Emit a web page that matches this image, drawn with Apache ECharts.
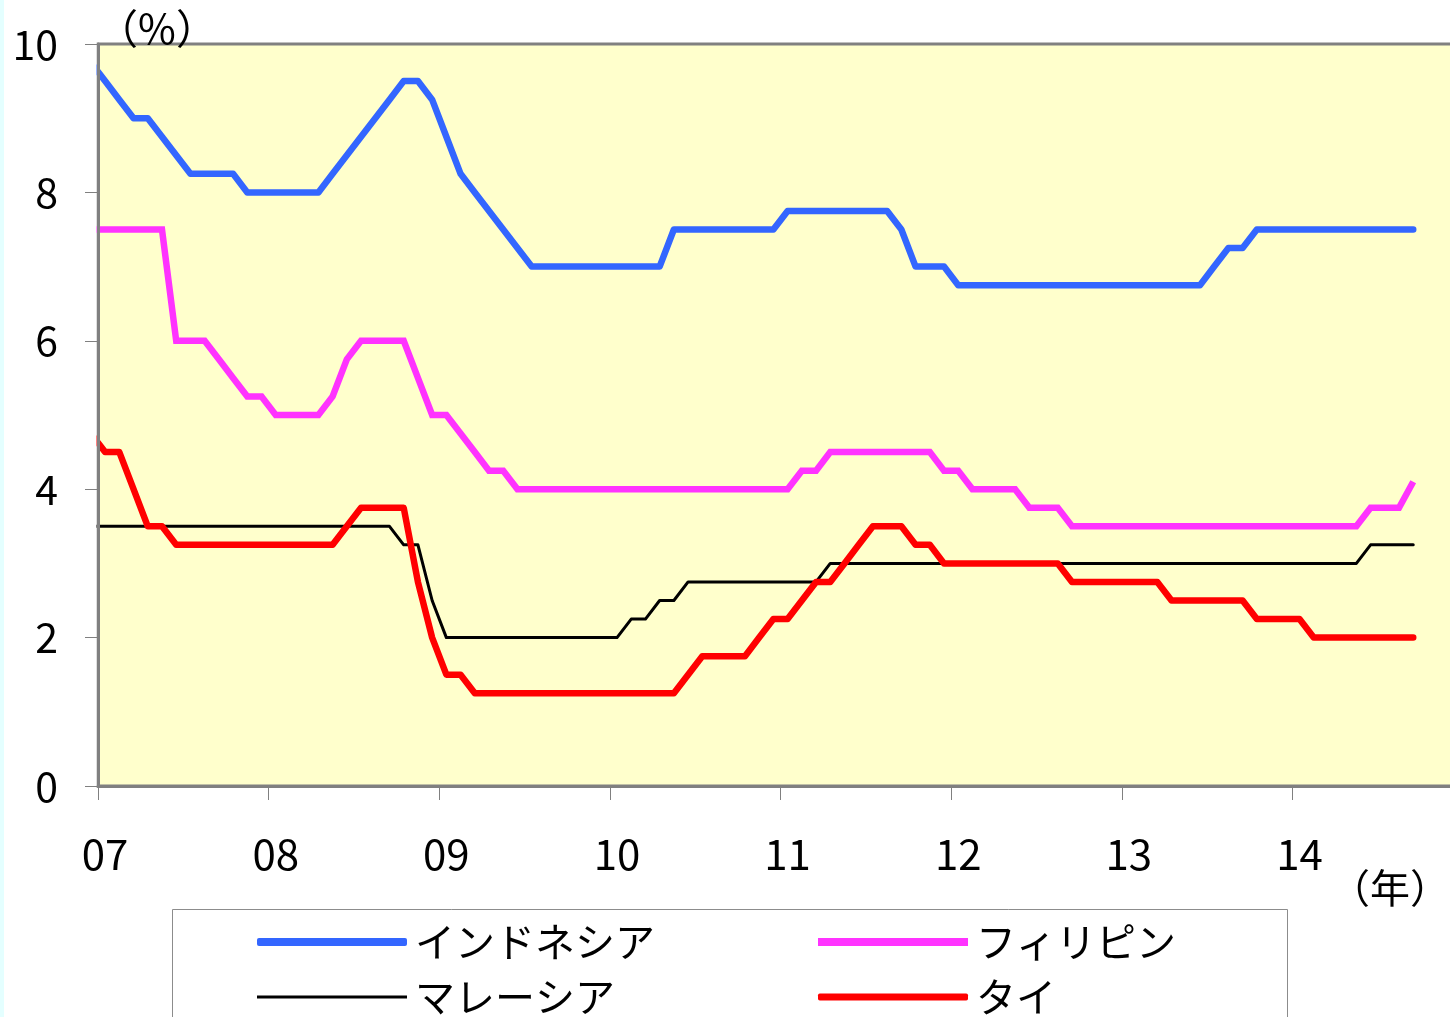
<!DOCTYPE html>
<html><head><meta charset="utf-8">
<script src="https://cdn.jsdelivr.net/npm/echarts@6/dist/echarts.min.js"></script>
<style>html,body{margin:0;padding:0;background:#fff;}#c{width:1450px;height:1017px;}</style>
</head><body><div id="c"></div>
<script>
// Monthly categories: Dec 2006 (partly outside the plot) .. Dec 2014
const months = ['2006-12'];
for (let y = 2007; y <= 2014; y++) for (let m = 1; m <= 12; m++) months.push(y + '-' + (m < 10 ? '0' + m : '' + m));

const seriesNames = ['インドネシア', 'フィリピン', 'マレーシア', 'タイ'];

// values from Dec 2006 to Sep 2014 (%)
const indonesia = [9.75,
  9.5,9.25,9.0,9.0,8.75,8.5,8.25,8.25,8.25,8.25,8.0,8.0,
  8.0,8.0,8.0,8.0,8.25,8.5,8.75,9.0,9.25,9.5,9.5,9.25,
  8.75,8.25,8.0,7.75,7.5,7.25,7.0,7.0,7.0,7.0,7.0,7.0,
  7.0,7.0,7.0,7.0,7.5,7.5,7.5,7.5,7.5,7.5,7.5,7.5,
  7.75,7.75,7.75,7.75,7.75,7.75,7.75,7.75,7.5,7.0,7.0,7.0,
  6.75,6.75,6.75,6.75,6.75,6.75,6.75,6.75,6.75,6.75,6.75,6.75,
  6.75,6.75,6.75,6.75,6.75,6.75,7.0,7.25,7.25,7.5,7.5,7.5,
  7.5,7.5,7.5,7.5,7.5,7.5,7.5,7.5,7.5];
const philippines = [7.5,
  7.5,7.5,7.5,7.5,7.5,6.0,6.0,6.0,5.75,5.5,5.25,5.25,
  5.0,5.0,5.0,5.0,5.25,5.75,6.0,6.0,6.0,6.0,5.5,5.0,
  5.0,4.75,4.5,4.25,4.25,4.0,4.0,4.0,4.0,4.0,4.0,4.0,
  4.0,4.0,4.0,4.0,4.0,4.0,4.0,4.0,4.0,4.0,4.0,4.0,
  4.0,4.25,4.25,4.5,4.5,4.5,4.5,4.5,4.5,4.5,4.5,4.25,
  4.25,4.0,4.0,4.0,4.0,3.75,3.75,3.75,3.5,3.5,3.5,3.5,
  3.5,3.5,3.5,3.5,3.5,3.5,3.5,3.5,3.5,3.5,3.5,3.5,
  3.5,3.5,3.5,3.5,3.5,3.75,3.75,3.75,4.1];
const malaysia = [3.5,
  3.5,3.5,3.5,3.5,3.5,3.5,3.5,3.5,3.5,3.5,3.5,3.5,
  3.5,3.5,3.5,3.5,3.5,3.5,3.5,3.5,3.5,3.25,3.25,2.5,
  2.0,2.0,2.0,2.0,2.0,2.0,2.0,2.0,2.0,2.0,2.0,2.0,
  2.0,2.25,2.25,2.5,2.5,2.75,2.75,2.75,2.75,2.75,2.75,2.75,
  2.75,2.75,2.75,3.0,3.0,3.0,3.0,3.0,3.0,3.0,3.0,3.0,
  3.0,3.0,3.0,3.0,3.0,3.0,3.0,3.0,3.0,3.0,3.0,3.0,
  3.0,3.0,3.0,3.0,3.0,3.0,3.0,3.0,3.0,3.0,3.0,3.0,
  3.0,3.0,3.0,3.0,3.0,3.25,3.25,3.25,3.25];
const thailand = [4.75,
  4.5,4.5,4.0,3.5,3.5,3.25,3.25,3.25,3.25,3.25,3.25,3.25,
  3.25,3.25,3.25,3.25,3.25,3.5,3.75,3.75,3.75,3.75,2.75,2.0,
  1.5,1.5,1.25,1.25,1.25,1.25,1.25,1.25,1.25,1.25,1.25,1.25,
  1.25,1.25,1.25,1.25,1.25,1.5,1.75,1.75,1.75,1.75,2.0,2.25,
  2.25,2.5,2.75,2.75,3.0,3.25,3.5,3.5,3.5,3.25,3.25,3.0,
  3.0,3.0,3.0,3.0,3.0,3.0,3.0,3.0,2.75,2.75,2.75,2.75,
  2.75,2.75,2.75,2.5,2.5,2.5,2.5,2.5,2.5,2.25,2.25,2.25,
  2.25,2.0,2.0,2.0,2.0,2.0,2.0,2.0,2.0];

const yTickLabels = ['0','2','4','6','8','10'];

const FONT = '"Noto Sans CJK JP", "Noto Sans", sans-serif';
const isJan = (i, v) => typeof v === 'string' && v.slice(5) === '01';

function mkLegend(name, left, top, h, icon) {
  return {
    data: [name], left: left, top: top, padding: 0, orient: 'horizontal',
    icon: icon, itemWidth: 150, itemHeight: h, itemGap: 0,
    itemStyle: { borderWidth: 0 },
    selectedMode: false, z: 10,
    textStyle: { fontSize: 40, color: '#000', fontFamily: FONT, padding: [0, 0, 0, 3] }
  };
}

const chart = echarts.init(document.getElementById('c'), null, { renderer: 'canvas' });
chart.setOption({
  animation: false,
  backgroundColor: '#ffffff',
  grid: {
    left: 98, top: 44, right: -13, bottom: 231,
    show: true, backgroundColor: '#FFFFCC', borderColor: '#808080', borderWidth: 3,
    containLabel: false, outerBoundsMode: 'none'
  },
  xAxis: {
    type: 'category', data: months, boundaryGap: true, min: 1, z: 101,
    axisLine: { show: true, onZero: false, lineStyle: { color: '#808080', width: 3 } },
    axisTick: { show: true, interval: isJan, length: 14, lineStyle: { color: '#808080', width: 1 } },
    axisLabel: { interval: isJan, formatter: v => v.slice(2, 4), fontSize: 42, color: '#000', fontFamily: FONT, margin: 47 },
    splitLine: { show: false }
  },
  yAxis: {
    type: 'value', min: 0, max: 10, interval: 2, z: 101,
    axisLine: { show: true, lineStyle: { color: '#808080', width: 3 } },
    axisTick: { show: true, length: 13, lineStyle: { color: '#808080', width: 1 } },
    axisLabel: { fontSize: 41, color: '#000', fontFamily: FONT, margin: 40,
      formatter: v => yTickLabels[Math.round(v / 2)] },
    splitLine: { show: false }
  },
  legend: [
    mkLegend(seriesNames[0], 257, 922, 8, 'roundRect'),
    mkLegend(seriesNames[1], 818, 922, 8, 'rect'),
    mkLegend(seriesNames[2], 257, 977, 3, 'rect'),
    mkLegend(seriesNames[3], 818, 977, 7, 'roundRect')
  ],
  graphic: {
    elements: [
      { type: 'rect', z: 0, shape: { x: 0, y: 0, width: 4, height: 1017 }, style: { fill: '#E4FFFF' } },
      { type: 'rect', z: 100, silent: true, shape: { x: 84, y: 40, width: 12.5, height: 750 }, style: { fill: '#ffffff' } },
      { type: 'rect', z: 1, shape: { x: 172.5, y: 909.5, width: 1115, height: 200 }, style: { fill: '#ffffff', stroke: '#8c8c8c', lineWidth: 1 } },
      { type: 'text', z: 10, x: 157, y: 28, style: { text: '（%）', font: '41px ' + FONT, fill: '#000', align: 'center', verticalAlign: 'middle', textAlign: 'center', textVerticalAlign: 'middle' } },
      { type: 'text', z: 10, x: 1390, y: 888, style: { text: '（年）', font: '40px ' + FONT, fill: '#000', align: 'center', verticalAlign: 'middle', textAlign: 'center', textVerticalAlign: 'middle' } }
    ]
  },
  series: [
    { name: seriesNames[0], type: 'line', data: indonesia, symbol: 'none', clip: true, color: '#3366FF',
      lineStyle: { width: 6.5, color: '#3366FF', cap: 'round', join: 'round' } },
    { name: seriesNames[1], type: 'line', data: philippines, symbol: 'none', clip: true, color: '#FF33FF',
      lineStyle: { width: 6.5, color: '#FF33FF', cap: 'butt', join: 'miter' } },
    { name: seriesNames[2], type: 'line', data: malaysia, symbol: 'none', clip: true, color: '#000000',
      lineStyle: { width: 3, color: '#000000', cap: 'round', join: 'round' } },
    { name: seriesNames[3], type: 'line', data: thailand, symbol: 'none', clip: true, color: '#FF0000',
      lineStyle: { width: 6.5, color: '#FF0000', cap: 'round', join: 'round' } }
  ]
});
</script></body></html>
